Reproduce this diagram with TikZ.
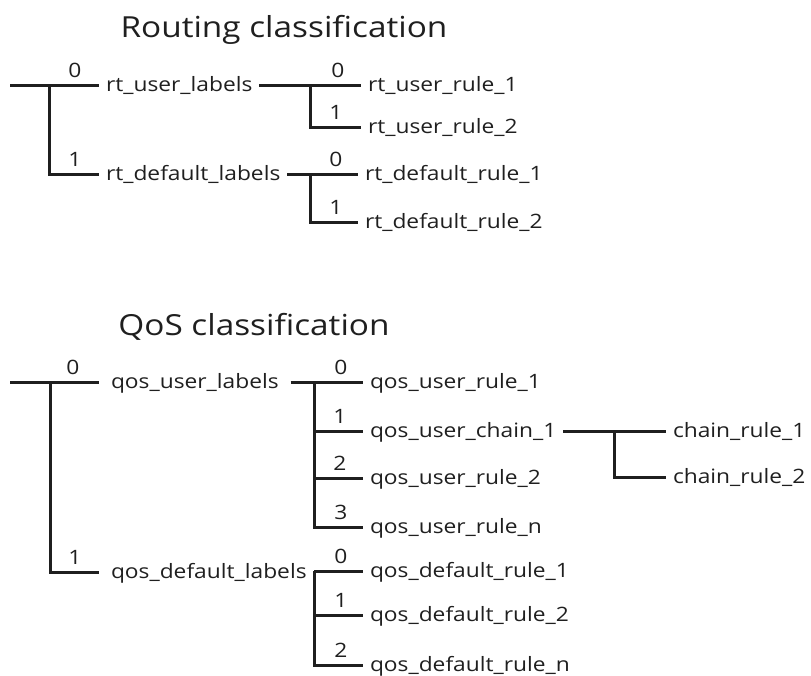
\documentclass[tikz,border=0pt]{standalone}
\usepackage{fontspec}
\setmainfont{Open Sans}[FakeStretch=1.15]
\usepackage{tikz}

\begin{document}
\begin{tikzpicture}[x=1pt,y=-1pt,line width=3pt,black!88,
  lbl/.style={anchor=west,inner xsep=7pt,inner ysep=0pt,outer sep=0pt,text height=13pt,text depth=0pt,font=\fontsize{19.8}{20}\selectfont},
  num/.style={inner sep=0pt,font=\fontsize{19.8}{20}\selectfont},
  ttl/.style={anchor=base,inner sep=0pt,font=\fontsize{29}{29}\selectfont}]
\useasboundingbox (0,0) rectangle (811,675);

% routing
\node[ttl] (rttitle) at (284,37) {Routing classification};
\coordinate (rt) at (10,85);
\coordinate (rtj) at (49,85);
\coordinate (rtuj) at (310,85);
\coordinate (rtdj) at (310,174);
\node[lbl] (rtu) at (99,85) {rt\_user\_labels};
\node[lbl] (rtd) at (99,174) {rt\_default\_labels};
\node[lbl] (rtur1) at (361,85) {rt\_user\_rule\_1};
\node[lbl] (rtur2) at (361,127) {rt\_user\_rule\_2};
\node[lbl] (rtdr1) at (358,174) {rt\_default\_rule\_1};
\node[lbl] (rtdr2) at (358,222) {rt\_default\_rule\_2};
\draw (rt) -- (rtu.west);
\draw (rtj) |- (rtd.west);
\draw (rtu.east) -- (rtur1.west);
\draw (rtuj) |- (rtur2.west);
\draw (rtd.east) -- (rtdr1.west);
\draw (rtdj) |- (rtdr2.west);
\node[num] (rtn0) at (75,70) {0};
\node[num] (rtn1) at (75,159) {1};
\node[num] (rtun0) at (338,70) {0};
\node[num] (rtun1) at (336,112) {1};
\node[num] (rtdn0) at (336,159) {0};
\node[num] (rtdn1) at (336,207) {1};

% qos
\node[ttl] (qtitle) at (254,335) {QoS classification};
\coordinate (q) at (10,382);
\coordinate (qj) at (50,382);
\coordinate (quj) at (314,382);
\coordinate (qdj) at (314,571);
\coordinate (qcj) at (614,431);
\node[lbl,inner xsep=12pt] (qu) at (99,382) {qos\_user\_labels};
\node[lbl,inner xsep=12pt] (qd) at (99,572) {qos\_default\_labels};
\node[lbl] (qur1) at (363,382) {qos\_user\_rule\_1};
\node[lbl] (quc1) at (363,431) {qos\_user\_chain\_1};
\node[lbl] (qur2) at (363,478) {qos\_user\_rule\_2};
\node[lbl] (qurn) at (363,527) {qos\_user\_rule\_n};
\node[lbl] (qdr1) at (363,571) {qos\_default\_rule\_1};
\node[lbl] (qdr2) at (363,615) {qos\_default\_rule\_2};
\node[lbl] (qdrn) at (363,665) {qos\_default\_rule\_n};
\node[lbl] (cr1) at (666,431) {chain\_rule\_1};
\node[lbl] (cr2) at (666,477) {chain\_rule\_2};
\draw (q) -- (qu.west);
\draw (qj) |- (qd.west);
\draw (qu.east) -- (qur1.west);
\draw (quj) |- (quc1.west);
\draw (quj) |- (qur2.west);
\draw (quj) |- (qurn.west);
\draw (qdj) -- (qdr1.west);
\draw (qdj) |- (qdr2.west);
\draw (qdj) |- (qdrn.west);
\draw (quc1.east) -- (cr1.west);
\draw (qcj) |- (cr2.west);
\node[num] (qn0) at (73,367) {0};
\node[num] (qn1) at (75,557) {1};
\node[num] (qun0) at (341,367) {0};
\node[num] (qun1) at (340,416) {1};
\node[num] (qun2) at (340,463) {2};
\node[num] (qun3) at (341,512) {3};
\node[num] (qdn0) at (341,556) {0};
\node[num] (qdn1) at (341,600) {1};
\node[num] (qdn2) at (341,650) {2};
\end{tikzpicture}
\end{document}
